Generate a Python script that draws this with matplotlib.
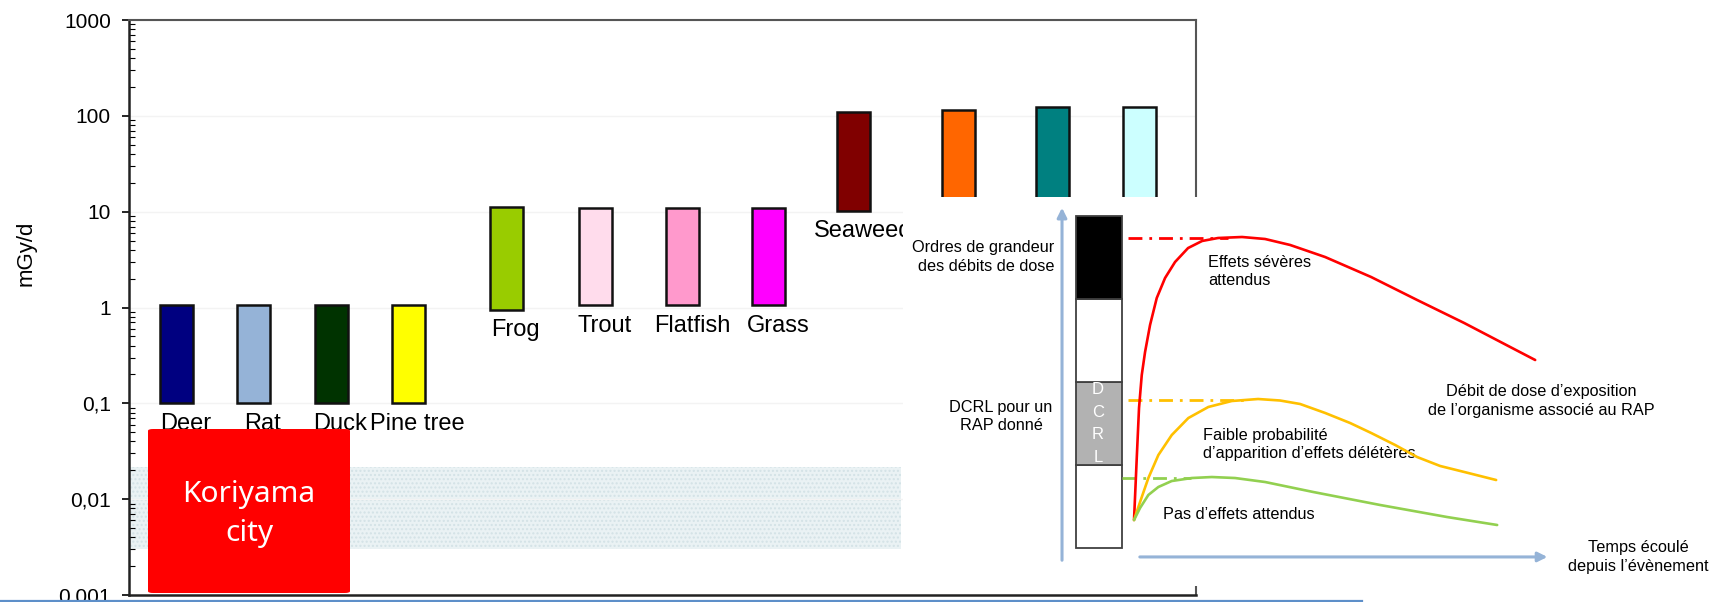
import matplotlib.pyplot as plt
from matplotlib.patches import FancyBboxPatch
from matplotlib.lines import Line2D
from matplotlib.ticker import FixedLocator, FixedFormatter, LogLocator, NullFormatter

# main chart: dose rate ranges (mGy/d), bars float between low and high
species = ['Deer', 'Rat', 'Duck', 'Pine tree', 'Frog', 'Trout', 'Flatfish', 'Grass',
           'Seaweed', '', '', '']
low = [0.1, 0.1, 0.1, 0.1, 0.95, 1.05, 1.05, 1.05, 10.2, 10.2, 10.2, 10.2]
high = [1.05, 1.05, 1.05, 1.05, 11.2, 11.0, 11.0, 11.0, 110, 114, 123, 123]
colors = ['#000080', '#95b3d7', '#003300', '#ffff00', '#99cc00', '#ffdcec', '#ff99cc',
          '#ff00ff', '#800000', '#ff6600', '#008080', '#ccffff']
yticks = [0.001, 0.01, 0.1, 1, 10, 100, 1000]
ytick_labels = ['0,001', '0,01', '0,1', '1', '10', '100', '1000']
band = (0.003, 0.0216)

# inset schematic (arbitrary time / dose units)
column_bottom = [0, 1, 2, 3]
column_colors = ['white', '#b2b2b2', 'white', 'black']
red_t = [-0.073, -0.007, 0.048, 0.114, 0.194, 0.315, 0.477, 0.678, 0.920, 1.235, 1.574,
         1.961, 2.542, 3.099, 3.705, 4.552, 5.666, 6.780, 7.918, 9.031, 9.637]
red_d = [0.337, 1.084, 1.687, 2.084, 2.361, 2.687, 3.012, 3.253, 3.446, 3.614, 3.699,
         3.735, 3.747, 3.723, 3.651, 3.506, 3.265, 2.988, 2.711, 2.422, 2.265]
orange_t = [-0.073, 0.073, 0.274, 0.516, 0.840, 1.242, 1.726, 2.293, 2.930, 3.462, 3.947,
            4.552, 5.157, 5.666, 6.247, 6.780, 7.337, 7.918, 8.692]
orange_d = [0.337, 0.554, 0.843, 1.120, 1.361, 1.566, 1.699, 1.771, 1.795, 1.777, 1.735,
            1.627, 1.506, 1.386, 1.241, 1.096, 0.988, 0.916, 0.819]
green_t = [-0.073, 0.073, 0.274, 0.516, 0.840, 1.324, 1.809, 2.373, 3.099, 4.261, 5.884,
           7.506, 8.717]
green_d = [0.337, 0.482, 0.639, 0.735, 0.807, 0.843, 0.855, 0.843, 0.795, 0.675, 0.518,
           0.373, 0.277]
levels = {'red': (3.738, -0.218, 2.2), 'orange': (1.783, -0.218, 2.74), 'green': (0.843, -0.363, 1.3)}

# layout
W, H = 1727, 602
slot = [0.552, 1.453, 2.349, 3.25, 4.39, 5.42, 6.44, 7.44, 8.43, 9.64, 10.74, 11.75]

plt.rcParams['font.family'] = ['Liberation Sans', 'DejaVu Sans']
fig = plt.figure(figsize=(W / 100, H / 100), dpi=100)

ax = fig.add_axes([129 / W, 7 / H, 1067 / W, 575 / H])
ax.set_yscale('log')
ax.set_ylim(0.001, 1000)
ax.set_xlim(0, 1067 / 86)

ax.bar(slot, [h - l for h, l in zip(high, low)], bottom=low, width=0.384,
       color=colors, edgecolor='#111111', linewidth=1.8, zorder=3)
for x, l, name in zip(slot, low, species):
    ax.text(x + 0.105, l * 0.61, name, ha='center', va='center', fontsize=17, zorder=4)

ax.axhspan(band[0], band[1], xmin=0, xmax=(901 - 129) / 1067, facecolor='#eaf2f4',
           edgecolor='#d3e2e6', hatch='....', linewidth=0, zorder=1)
ax.yaxis.grid(True, which='major', color='#f3f3f3', linewidth=1, zorder=0)

ax.yaxis.set_major_locator(FixedLocator(yticks))
ax.yaxis.set_major_formatter(FixedFormatter(ytick_labels))
ax.yaxis.set_minor_locator(LogLocator(base=10, subs=range(2, 10)))
ax.yaxis.set_minor_formatter(NullFormatter())
ax.tick_params(axis='y', which='major', direction='out', length=5, width=1.2, labelsize=15, pad=8)
ax.tick_params(axis='y', which='minor', direction='in', length=4, width=0.8)
ax.set_xticks([])
for side in ['left', 'bottom']:
    ax.spines[side].set_linewidth(1.8)
    ax.spines[side].set_color('#222222')
for side in ['top', 'right']:
    ax.spines[side].set_linewidth(1.5)
    ax.spines[side].set_color('#555555')

fig.text(26 / W, 1 - 253 / H, 'mGy/d', rotation=90, ha='center', va='center', fontsize=16)

# Koriyama box
box = FancyBboxPatch((148 / W, 1 - 593 / H), 202 / W, 164 / H,
                     boxstyle='round,pad=0,rounding_size=0.003', transform=fig.transFigure,
                     facecolor='#ff0000', edgecolor='none', zorder=5)
fig.patches.append(box)
fig.text(249 / W, 1 - 514 / H, 'Koriyama\ncity', color='white', ha='center', va='center',
         fontsize=21.5, family=['Noto Sans', 'DejaVu Sans'], linespacing=1.44, zorder=6)

# bottom slide line
fig.add_artist(Line2D([0, 1362 / W], [1 - 600.5 / H, 1 - 600.5 / H], color='#5d8fc9',
                      linewidth=1.6, transform=fig.transFigure))

# inset schematic
ax2 = fig.add_axes([903 / W, 16 / H, 824 / W, 389 / H], zorder=3)
ax2.set_facecolor('white')
ax2.set_xlim(-5.665, 14.28)
ax2.set_ylim(-0.458, 4.229)
ax2.set_xticks([])
ax2.set_yticks([])
for s in ax2.spines.values():
    s.set_visible(False)

arrow_c = '#95b3d7'
ax2.annotate('', xy=(-1.816, 4.133), xytext=(-1.816, -0.181),
             arrowprops=dict(arrowstyle='-|>', color=arrow_c, lw=2.2, mutation_scale=14))
ax2.annotate('', xy=(10.0, -0.108), xytext=(0.0, -0.108),
             arrowprops=dict(arrowstyle='-|>', color=arrow_c, lw=2.2, mutation_scale=14))

ax2.bar([-0.92] * 4, [1] * 4, bottom=column_bottom, width=1.114, color=column_colors,
        edgecolor='#404040', linewidth=1.3, zorder=3)
ax2.text(-0.944, 1.5, 'D\nC\nR\nL', color='white', ha='center', va='center', fontsize=12,
         linespacing=1.64, zorder=4)

curve_cols = {'red': '#ff0000', 'orange': '#ffc000', 'green': '#92d050'}
for key, (d, t0, t1) in levels.items():
    ax2.plot([t0, t1], [d, d], color=curve_cols[key], lw=2, linestyle=(0, (5, 2.5, 1, 2.5)),
             zorder=4)
for key, t, d in [('red', red_t, red_d), ('orange', orange_t, orange_d),
                  ('green', green_t, green_d)]:
    ax2.plot(t, d, color=curve_cols[key], lw=1.9, solid_joinstyle='round',
             solid_capstyle='round', zorder=5)

fs = 11.7
ls = 1.32
ax2.text(-2.01, 3.506, 'Ordres de grandeur\ndes débits de dose', ha='right', va='center',
         fontsize=fs, multialignment='right', linespacing=ls)
ax2.text(-3.293, 1.584, 'DCRL pour un\nRAP donné', ha='center', va='center', fontsize=fs,
         linespacing=ls)
ax2.text(1.719, 3.331, 'Effets sévères\nattendus', ha='left', va='center', fontsize=fs,
         linespacing=ls)
ax2.text(1.598, 1.247, 'Faible probabilité\nd\u2019apparition d\u2019effets délétères', ha='left',
         va='center', fontsize=fs, linespacing=ls)
ax2.text(0.630, 0.398, 'Pas d\u2019effets attendus', ha='left', va='center', fontsize=fs)
ax2.text(9.782, 1.771, 'Débit de dose d\u2019exposition\nde l\u2019organisme associé au RAP',
         ha='center', va='center', fontsize=fs, linespacing=ls)
ax2.text(12.131, -0.108, 'Temps écoulé\ndepuis l\u2019évènement', ha='center', va='center',
         fontsize=fs, linespacing=ls)

fig.savefig('out.png', dpi=100, facecolor='white')
